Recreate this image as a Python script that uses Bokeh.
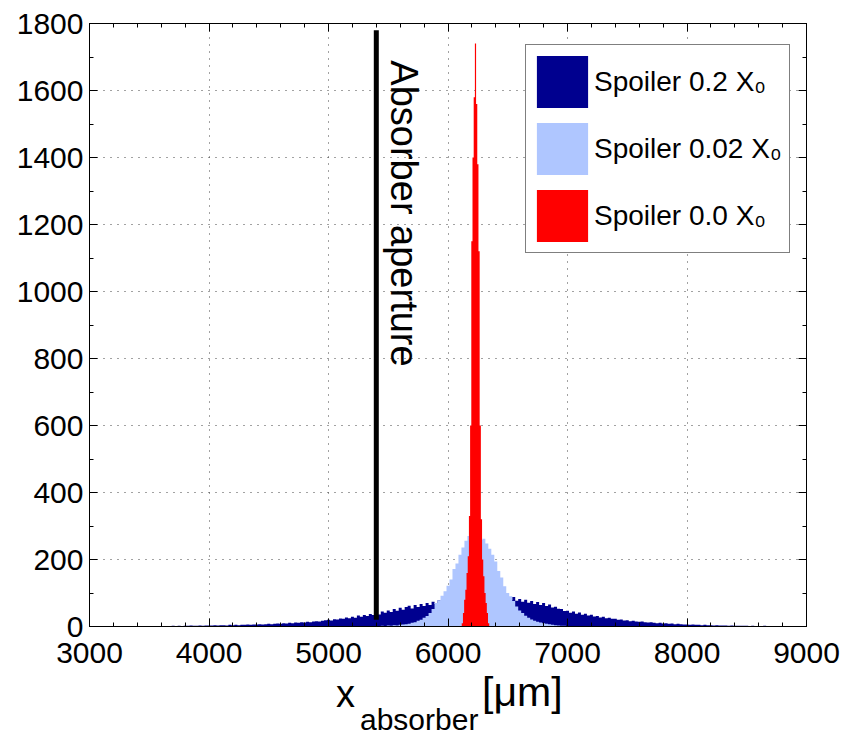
import numpy as np
from bokeh.plotting import figure
from bokeh.layouts import column
from bokeh.models import (Range1d, SingleIntervalTicker, LinearAxis, Legend,
                          LegendItem, Div)
from bokeh.core.properties import value
from bokeh.embed import file_html
from bokeh.resources import INLINE

# ---------------- data ----------------
# Spoiler 0.2 X0 : histogram, bins of 25 um starting at 3600 um
dark_start, dark_step = 3600, 25
dark_counts = [
    1, 0, 1, 1, 2,
    1, 2, 1, 2, 2, 3, 2, 2, 3, 2, 3,
    3, 3, 4, 3, 4, 4, 3, 5, 4, 5, 4, 5, 5, 6, 5, 6, 6, 7, 6, 7,
    8, 7, 8, 9, 8, 10, 9, 11, 10, 12, 11, 13, 12, 14, 13, 15, 16, 15, 17, 19,
    20, 18, 22, 21, 24, 23, 27, 25, 29, 26, 33, 29, 34, 31, 37, 34, 40, 36, 45, 41,
    48, 43, 52, 47, 56, 50, 58, 62, 54, 64, 58, 67, 61, 70, 64, 74, 67, 78, 70, 80,
    74, 78, 76, 79, 77, 80, 78, 81, 79, 80, 78, 81, 79, 80, 77, 79, 78, 80, 79, 81,
    86, 79, 88, 77, 82, 74, 80, 71, 76, 67, 73, 64, 70, 61, 66, 57, 59, 53, 52, 46,
    47, 41, 45, 38, 42, 35, 38, 33, 35, 30, 31, 27, 29, 25, 26, 23, 23, 20, 21, 18,
    19, 16, 17, 15, 14, 15, 13, 12, 13, 11, 10, 11, 9, 10, 8, 9, 7, 8, 7, 6,
    6, 5, 6, 5, 5, 4, 5, 4, 4, 3, 4, 3, 3, 3, 2, 3, 2, 2, 2, 2,
    2, 1, 2, 1, 1, 1, 2, 1, 1, 0, 1, 0, 0,
]
# Spoiler 0.02 X0 : bins of 25 um starting at 5400 um
light_start, light_step = 5400, 25
light_counts = [
    0, 1, 2, 1, 3, 2, 4, 3, 5, 6, 7, 8, 11, 13, 17, 20, 26, 31, 40, 52,
    70, 78, 92, 105, 122, 140, 172, 188, 214, 236, 256, 270, 262, 278, 268, 258,
    262, 248, 232, 214, 194, 166, 146, 120, 100, 90, 76, 60, 48, 40, 32, 26,
    21, 17, 14, 12, 10, 8, 7, 5, 4, 3, 2, 2, 1, 0,
]
# Spoiler 0.0 X0 : bins of 10 um starting at 6110 um
red_start, red_step = 6110, 10
red_counts = [
    0, 10, 40, 80, 110, 160, 210, 330, 600, 1150, 1400, 1580, 1740,
    1560, 1380, 1120, 600, 320, 200, 150, 100, 70, 40, 10, 0,
]

aperture_x = 5400
aperture_y = [20, 1780]

legend_labels = ["Spoiler 0.2 X\u2080", "Spoiler 0.02 X\u2080", "Spoiler 0.0 X\u2080"]
colors = ["#00008F", "#AFC6FF", "#FF0000"]

x_lo, x_hi, x_major, x_minor_n = 3000, 9000, 1000, 5
y_lo, y_hi, y_major, y_minor_n = 0, 1800, 200, 2

FONT = "Liberation Sans"

# ---------------- figure ----------------
p = figure(frame_width=717, frame_height=603,
           x_range=Range1d(x_lo, x_hi), y_range=Range1d(y_lo, y_hi),
           output_backend="svg", toolbar_location=None,
           min_border_left=89, min_border_right=40,
           min_border_top=23, min_border_bottom=50)
p.background_fill_color = "white"
p.border_fill_color = "white"
p.outline_line_color = "black"
p.outline_line_width = 1

def centers(start, step, n):
    return [start + step * i for i in range(n)]

r_dark = p.varea_step(x=centers(dark_start, dark_step, len(dark_counts)),
                      y1=0, y2=dark_counts, step_mode="center",
                      fill_color=colors[0])
r_light = p.varea_step(x=centers(light_start, light_step, len(light_counts)),
                       y1=0, y2=light_counts, step_mode="center",
                       fill_color=colors[1])
r_red = p.varea_step(x=centers(red_start, red_step, len(red_counts)),
                     y1=0, y2=red_counts, step_mode="center",
                     fill_color=colors[2])

p.line(x=[aperture_x, aperture_x], y=aperture_y, line_color="black", line_width=5)

p.text(x=[5628], y=[1690], text=["Absorber aperture"], angle=-np.pi / 2,
       text_align="left", text_baseline="middle",
       text_font=value(FONT), text_font_size="38px", text_color="black")

# ---------------- axes ----------------
xt = SingleIntervalTicker(interval=x_major, num_minor_ticks=x_minor_n)
yt = SingleIntervalTicker(interval=y_major, num_minor_ticks=y_minor_n)
p.xaxis.ticker = xt
p.yaxis.ticker = yt

for ax in (p.xaxis[0], p.yaxis[0]):
    ax.major_tick_in = 8
    ax.major_tick_out = 0
    ax.minor_tick_in = 4
    ax.minor_tick_out = 0
    ax.axis_line_color = "black"
    ax.major_tick_line_color = "black"
    ax.minor_tick_line_color = "black"
    ax.major_label_text_font = FONT
    ax.major_label_text_font_size = "30px"
    ax.major_label_text_color = "black"
p.xaxis.major_label_standoff = 16
p.yaxis.major_label_standoff = 6

x_tick_vals = list(range(x_lo, x_hi + 1, x_major))
y_tick_vals = list(range(y_lo, y_hi + 1, y_major))
for loc, tk, vals in (("above", xt, x_tick_vals), ("right", yt, y_tick_vals)):
    a = LinearAxis(ticker=tk, major_tick_in=8, major_tick_out=0,
                   minor_tick_in=4, minor_tick_out=0,
                   major_label_overrides={v: "" for v in vals},
                   major_label_standoff=0, major_label_text_font_size="10px",
                   axis_line_color="black", major_tick_line_color="black",
                   minor_tick_line_color="black")
    p.add_layout(a, loc)

p.xgrid.grid_line_color = "#444444"
p.ygrid.grid_line_color = "#444444"
p.xgrid.grid_line_dash = "1 6"
p.ygrid.grid_line_dash = "1 6"
p.xgrid.grid_line_width = 1
p.ygrid.grid_line_width = 1

# ---------------- legend ----------------
legend = Legend(items=[LegendItem(label=legend_labels[0], renderers=[r_dark]),
                       LegendItem(label=legend_labels[1], renderers=[r_light]),
                       LegendItem(label=legend_labels[2], renderers=[r_red])],
                location=(436, 373),
                glyph_width=64, glyph_height=65, label_height=65,
                label_width=191,
                label_standoff=0, spacing=2, padding=4, margin=0,
                label_text_font=FONT, label_text_font_size="28px",
                label_text_color="black",
                border_line_color="black", border_line_width=1,
                background_fill_color="white", background_fill_alpha=1)
p.add_layout(legend, "center")

# ---------------- x-axis label (with subscript) ----------------
xlabel = Div(width=846, height=61, text=(
    '<div style="position:relative;width:846px;height:61px;'
    'font-family:\'Liberation Sans\';color:black;line-height:1;">'
    '<span style="position:absolute;left:331px;top:-6px;font-size:38px;line-height:38px;">x</span>'
    '<span style="position:absolute;left:355px;top:24px;font-size:30px;line-height:30px;">absorber</span>'
    '<span style="position:absolute;left:477px;top:-9px;font-size:41px;line-height:41px;">[\u03bcm]</span>'
    '</div>'))

layout = column(p, xlabel, spacing=0)
open("out.html", "w").write(file_html(layout, INLINE))
